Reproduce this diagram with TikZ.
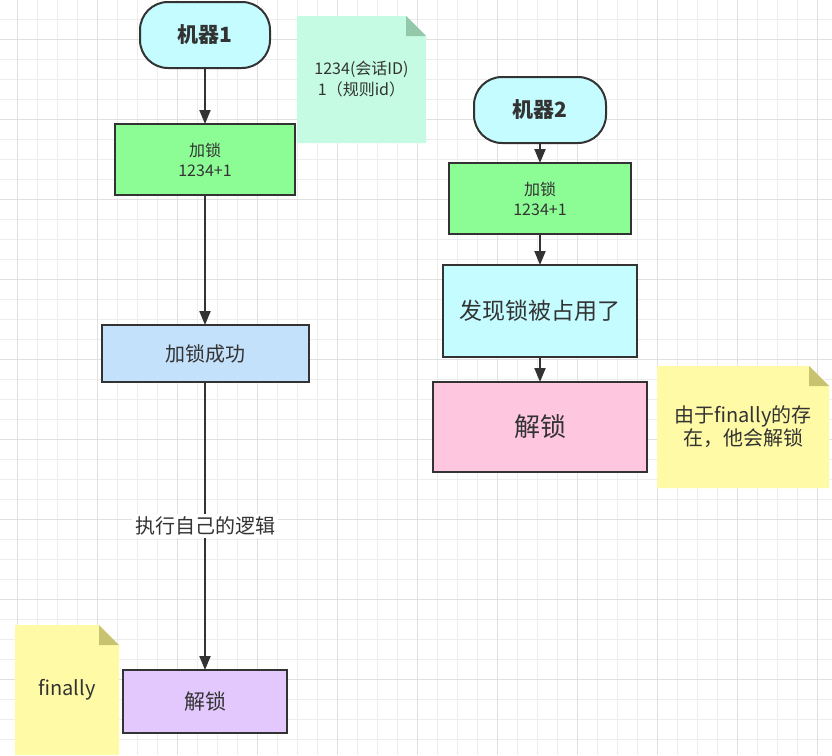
\documentclass[tikz,border=0pt]{standalone}
\usepackage{fontspec}
\setmainfont{Noto Sans CJK SC}
\usepackage{tikz}
\usetikzlibrary{positioning,arrows.meta,backgrounds}
\definecolor{ink}{HTML}{333333}
\definecolor{gridminor}{HTML}{EDEDED}
\definecolor{gridmajor}{HTML}{E0E0E0}
\definecolor{startcyan}{HTML}{C4FCFF}
\definecolor{lockgreen}{HTML}{8CFC94}
\definecolor{okblue}{HTML}{C4E1FB}
\definecolor{freepurple}{HTML}{E2C8FC}
\definecolor{freepink}{HTML}{FFC6E0}
\definecolor{mintnote}{HTML}{C4FBE2}
\definecolor{mintfold}{HTML}{93C8AB}
\definecolor{yellownote}{HTML}{FFFAA5}
\definecolor{yellowfold}{HTML}{C8C370}
\tikzstyle{arrow} = [line width=2pt,draw=ink,-{Triangle[length=14pt,width=11pt]}]

\begin{document}
\begin{tikzpicture}[x=1pt,y=-1pt]
			\tikzstyle{box} = [rectangle, draw=ink, line width=2pt, text=ink, align=center, inner sep=0pt, outer sep=0pt];
			\tikzstyle{startbox} = [box, rounded corners=28pt, fill=startcyan, minimum height=66pt, font=\fontsize{21}{24}\selectfont\bfseries];
			\tikzstyle{lockbox} = [box, fill=lockgreen, minimum height=71pt, font=\fontsize{16}{20}\selectfont];
			\tikzstyle{note} = [rectangle, text=ink, align=center, inner sep=0pt, outer sep=0pt];
			\useasboundingbox (0,0) rectangle (832,755);
			% grid paper
			\begin{scope}[on background layer]
				\fill[white] (0,0) rectangle (832,755);
				\foreach \x in {17,37,...,817} \draw[gridminor, line width=1pt] (\x,0) -- (\x,755);
				\foreach \y in {19.5,39.5,...,739.5} \draw[gridminor, line width=1pt] (0,\y) -- (832,\y);
				\foreach \x in {17,97,...,817} \draw[gridmajor, line width=1pt] (\x,0) -- (\x,755);
				\foreach \y in {39.5,119.5,...,679.5} \draw[gridmajor, line width=1pt] (0,\y) -- (832,\y);
			\end{scope}
			% machine 1
			\node (m1) [startbox, minimum width=130pt] at (205,35) {机器1};
			\node (lock1) [lockbox, minimum width=180pt, below=56pt of m1] {加锁\\1234+1};
			\node (ok1) [box, fill=okblue, minimum width=207pt, minimum height=57pt, below=130pt of lock1, font=\fontsize{20}{24}\selectfont] {加锁成功};
			\node (unlock1) [box, fill=freepurple, minimum width=164pt, minimum height=63pt, below=288pt of ok1, font=\fontsize{21}{24}\selectfont] {解锁};
			% machine 2
			\node (m2) [startbox, minimum width=132pt] at (540,110) {机器2};
			\node (lock2) [lockbox, minimum width=182pt, below=20pt of m2] {加锁\\1234+1};
			\node (busy2) [box, fill=startcyan, minimum width=194pt, minimum height=92pt, below=31pt of lock2, font=\fontsize{23}{26}\selectfont] {发现锁被占用了};
			\node (unlock2) [box, fill=freepink, minimum width=214pt, minimum height=90pt, below=25pt of busy2, font=\fontsize{26}{30}\selectfont] {解锁};
			% notes
			\node (idnote) [note, minimum width=129pt, minimum height=127pt, font=\fontsize{16}{21}\selectfont] at (361.5,79.5) {1234(会话ID)\\1（规则id）};
			\node (finnote) [note, minimum width=104pt, minimum height=130pt, font=\fontsize{20}{23}\selectfont] at (67,690) {finally};
			\node (whynote) [note, minimum width=172pt, minimum height=122pt, font=\fontsize{20}{23}\selectfont] at (743,427) {由于finally的存\\在，他会解锁};
			\begin{scope}[on background layer]
				\fill[mintnote] (idnote.north west) -- ([xshift=-20pt]idnote.north east) -- ([yshift=-20pt]idnote.north east) -- (idnote.south east) -- (idnote.south west) -- cycle;
				\fill[mintfold] ([xshift=-20pt]idnote.north east) -- ([xshift=-20pt,yshift=-20pt]idnote.north east) -- ([yshift=-20pt]idnote.north east) -- cycle;
				\fill[yellownote] (finnote.north west) -- ([xshift=-20pt]finnote.north east) -- ([yshift=-20pt]finnote.north east) -- (finnote.south east) -- (finnote.south west) -- cycle;
				\fill[yellowfold] ([xshift=-20pt]finnote.north east) -- ([xshift=-20pt,yshift=-20pt]finnote.north east) -- ([yshift=-20pt]finnote.north east) -- cycle;
				\fill[yellownote] (whynote.north west) -- ([xshift=-20pt]whynote.north east) -- ([yshift=-20pt]whynote.north east) -- (whynote.south east) -- (whynote.south west) -- cycle;
				\fill[yellowfold] ([xshift=-20pt]whynote.north east) -- ([xshift=-20pt,yshift=-20pt]whynote.north east) -- ([yshift=-20pt]whynote.north east) -- cycle;
			\end{scope}
			% connectors
			\draw [arrow] (m1) -- (lock1);
			\draw [arrow] (lock1) -- (ok1);
			\draw [arrow] (ok1) -- node[fill=white, text=ink, inner sep=3pt, font=\fontsize{20}{24}\selectfont] {执行自己的逻辑} (unlock1);
			\draw [arrow] (m2) -- (lock2);
			\draw [arrow] (lock2) -- (busy2);
			\draw [arrow] (busy2) -- (unlock2);
		\end{tikzpicture}
\end{document}
